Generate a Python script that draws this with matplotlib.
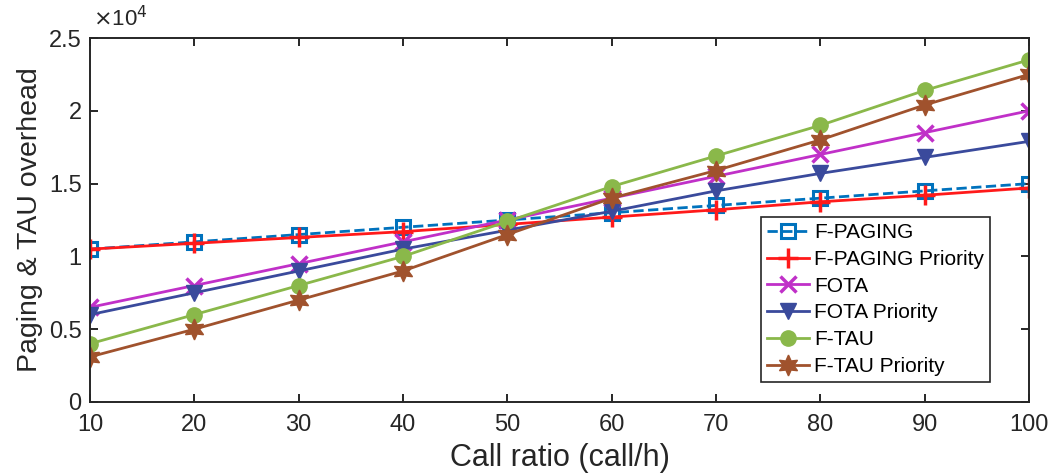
import matplotlib
matplotlib.use('Agg')
import matplotlib.pyplot as plt
from matplotlib.ticker import FuncFormatter, MultipleLocator

plt.rcParams['font.family'] = ['Liberation Sans', 'DejaVu Sans']

# call ratio (call/h)
call_ratio = [10, 20, 30, 40, 50, 60, 70, 80, 90, 100]

# overhead per scheme
f_paging = [10500, 11000, 11500, 12000, 12500, 13000, 13500, 14000, 14500, 15000]
f_paging_pri = [10500, 10900, 11300, 11700, 12200, 12700, 13200, 13750, 14200, 14700]
fota = [6500, 8000, 9500, 11000, 12500, 14000, 15500, 17000, 18500, 20000]
fota_pri = [6000, 7500, 9000, 10500, 11800, 13100, 14500, 15700, 16800, 17900]
f_tau = [4000, 6000, 8000, 10000, 12400, 14800, 16900, 19000, 21400, 23500]
f_tau_pri = [3100, 5000, 7000, 9000, 11500, 14000, 15900, 18000, 20400, 22500]

labels = ['F-PAGING', 'F-PAGING Priority', 'FOTA', 'FOTA Priority',
          'F-TAU', 'F-TAU Priority']

fig = plt.figure(figsize=(10.56, 4.74), dpi=100)
ax = fig.add_axes([0.0852, 0.1519, 0.8892, 0.7679])

lw = 2.0
ax.plot(call_ratio, f_paging, '--s', color='#0072BD', lw=lw, ms=10,
        mfc='none', mew=2.2, label=labels[0])
ax.plot(call_ratio, f_paging_pri, '-+', color='#FF1A1A', lw=lw, ms=14,
        mew=2.5, label=labels[1])
ax.plot(call_ratio, fota, '-x', color='#C030C8', lw=lw, ms=11,
        mew=2.5, label=labels[2])
ax.plot(call_ratio, fota_pri, '-v', color='#3A4A9C', lw=lw, ms=12,
        label=labels[3])
ax.plot(call_ratio, f_tau, '-o', color='#8AB84A', lw=lw, ms=11,
        label=labels[4])
# six-pointed star, like MATLAB's hexagram
ax.plot(call_ratio, f_tau_pri, '-', marker=(6, 1, 0), color='#A0522D',
        lw=lw, ms=15, label=labels[5])

ax.set_xlim(10, 100)
ax.set_ylim(0, 25000)
ax.xaxis.set_major_locator(MultipleLocator(10))
ax.yaxis.set_major_locator(MultipleLocator(5000))
ax.yaxis.set_major_formatter(FuncFormatter(lambda v, p: f'{v / 1e4:g}'))

edge = '#262626'
for s in ax.spines.values():
    s.set_linewidth(1.4)
    s.set_color(edge)
ax.tick_params(direction='in', length=6, width=1.4, colors=edge,
               labelsize=17, top=True, right=True, pad=6)
ax.tick_params(axis='x', pad=9)
for t in ax.get_xticklabels() + ax.get_yticklabels():
    t.set_color('#262626')

ax.text(0.003, 1.02, r'$\times$10$^4$', transform=ax.transAxes,
        fontsize=16, color='#262626', va='bottom', ha='left')

ax.set_xlabel('Call ratio (call/h)', fontsize=22, color='#262626', labelpad=5)
ax.set_ylabel('Paging & TAU overhead', fontsize=20.5, color='#262626', labelpad=4)

leg = ax.legend(loc='upper left', bbox_to_anchor=(0.7146, 0.508),
                borderaxespad=0, fontsize=15, fancybox=False, framealpha=1,
                edgecolor=edge, handlelength=2.0, handletextpad=0.25,
                labelspacing=0.37, borderpad=0.3)
leg.get_frame().set_linewidth(1.2)

fig.savefig('out.png', dpi=100)
